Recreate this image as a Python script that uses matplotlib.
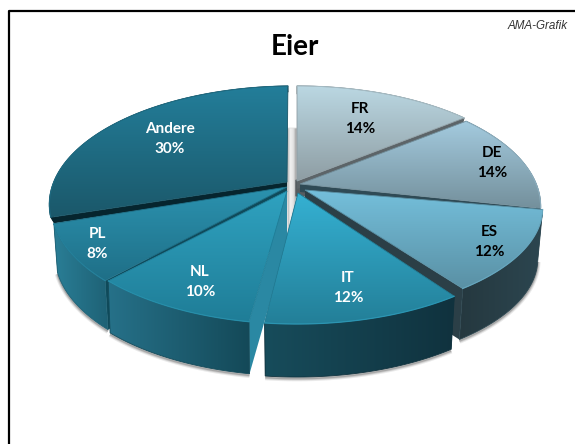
import numpy as np
import matplotlib
matplotlib.use("Agg")
import matplotlib.pyplot as plt
from matplotlib.colors import LinearSegmentedColormap
from matplotlib.patches import Polygon

title = "Eier"
source = "AMA-Grafik"
names = ["FR", "DE", "ES", "IT", "NL", "PL", "Andere"]
shares = [14, 14, 12, 12, 10, 8, 30]

# pie projection, everything in image pixels
cx, cy = 297, 184
rad, squash, persp = 241, 115, 0.173

# slice geometry, in the order of names
apex = [(297, 181), (300, 184), (305, 190), (298, 193), (287, 191), (287, 187), (287, 182)]
rim_shift = [(0, 0), (-1, 2), (1, 5), (0, 1), (0, 1), (-1, 2), (-3, 0)]
rim_yscale = [1, 1, 0.92, 1, 1, 1, 1]
trim = [(0, 0), (1, 0), (0, 0), (2, 0.8), (2.3, 0), (0.7, 0), (2, 1.7)]
depth = [8, 8, 51, 53, 52, 49, 6]
low_scale = [0.985, 0.985, 0.98, 0.98, 0.99, 0.985, 0.985]
text_col = ["black", "black", "black", "white", "white", "white", "white"]
label_xy = [(360, 119), (492, 163), (489, 242), (348, 288), (200, 282), (97, 244), (170, 139)]

top_cols = [("#bbd8e3", "#8e9da3"), ("#a4cbdf", "#74909c"), ("#74bfdb", "#5a90a4"),
            ("#35b1d3", "#237f98"), ("#2fa2c0", "#1f7d97"), ("#2b92af", "#1f6f87"),
            ("#237e9a", "#1b586a")]
wall_cols = [("#5c6468", "#5c6468"), ("#2f4a55", "#2f4a55"), ("#25383f", "#2c4650"),
             ("#174c5b", "#10323e"), ("#267189", "#144958"), ("#2a7e96", "#1e6175"),
             ("#06252e", "#06252e")]
side_cols = ["#5c6468", "#2f4a55", "#2b3f47", "#10343f", "#2a88a3", "#0f4a5a", "#06252e"]


def project(deg):
    t = np.radians(deg)
    w = 1 + persp * np.cos(t)
    return cx + rad * np.sin(t) / w, cy - squash * np.cos(t) / w


def fill_grad(ax, pts, cols, vertical=True, z=1):
    pts = np.asarray(pts)
    x0, y0 = pts.min(axis=0)
    x1, y1 = pts.max(axis=0)
    cmap = LinearSegmentedColormap.from_list("g", cols)
    ramp = np.linspace(0, 1, 256)
    grid = ramp[:, None] if vertical else ramp[None, :]
    im = ax.imshow(grid, cmap=cmap, extent=(x0, x1, y1, y0), origin="upper",
                   aspect="auto", zorder=z, interpolation="bilinear")
    im.set_clip_path(Polygon(pts, closed=True, transform=ax.transData))
    ax.add_patch(Polygon(pts, closed=True, fill=False, lw=0.6,
                         edgecolor=cols[len(cols) // 2], zorder=z))


fig = plt.figure(figsize=(5.75, 4.44), dpi=100, facecolor="white")
ax = fig.add_axes([0, 0, 1, 1])
ax.axis("off")

# frame runs off the right and bottom of the image
ax.plot([9, 9, 580], [450, 11, 11], color="black", lw=1.6, zorder=1)

# light strip in the gap behind the slices
fill_grad(ax, [(287, 128), (297, 128), (297, 195), (288, 240), (287, 190)],
          ["#a8a8a8", "#f2f2f2", "#e0e0e0", "#8c8c8c"], vertical=False, z=2)
ax.add_patch(Polygon([(296, 180), (304, 184), (306, 196), (296, 196)], color="#565c60", zorder=2))

edges = np.cumsum([0] + shares) / sum(shares) * 360
z = 3
for i in [0, 6, 1, 5, 2, 4, 3]:
    a = edges[i] + trim[i][0]
    b = edges[i + 1] - trim[i][1]
    xs, ys = project(np.linspace(a, b, 80))
    xs = xs + rim_shift[i][0]
    ys = cy + (ys - cy) * rim_yscale[i] + rim_shift[i][1]
    rim = np.column_stack([xs, ys])
    d = depth[i]
    low = np.column_stack([cx + (xs - cx) * low_scale[i], ys + d])

    # soft shadow under the outer wall
    if d > 20:
        for lw, al in [(4, 0.12), (2.5, 0.2), (1.2, 0.3)]:
            ax.plot(low[:, 0], low[:, 1] + 1.5, color="#555555", lw=lw, alpha=al,
                    zorder=z, solid_capstyle="butt")
    z += 1

    # radial walls
    for k in (0, -1):
        px, py = rim[k]
        ax.add_patch(Polygon([apex[i], (px, py), (low[k, 0], low[k, 1]),
                              (apex[i][0], apex[i][1] + d)],
                             color=side_cols[i], lw=0, zorder=z))
    z += 1

    # outer wall
    fill_grad(ax, np.vstack([rim, low[::-1]]), wall_cols[i], vertical=False, z=z)
    z += 1

    # top face
    fill_grad(ax, np.vstack([[apex[i]], rim]), top_cols[i], vertical=True, z=z)
    ax.plot(rim[:, 0], rim[:, 1], color=top_cols[i][0], lw=0.9, alpha=0.5, zorder=z)
    z += 1

for name, val, xy, col in zip(names, shares, label_xy, text_col):
    ax.text(xy[0], xy[1], f"{name}\n{val}%", color=col, ha="center", va="center",
            family="Lato", weight="bold", fontsize=11, linespacing=1.5, zorder=z)

ax.text(295, 47, title, ha="center", va="center", family="Lato", weight="bold",
        fontsize=20, color="black", zorder=z)
ax.text(568, 26, source, ha="right", va="center", family="Liberation Sans",
        style="italic", fontsize=8.4, color="#333333", zorder=z)

ax.set_xlim(0, 575)
ax.set_ylim(444, 0)
fig.savefig("out.png", dpi=100)
